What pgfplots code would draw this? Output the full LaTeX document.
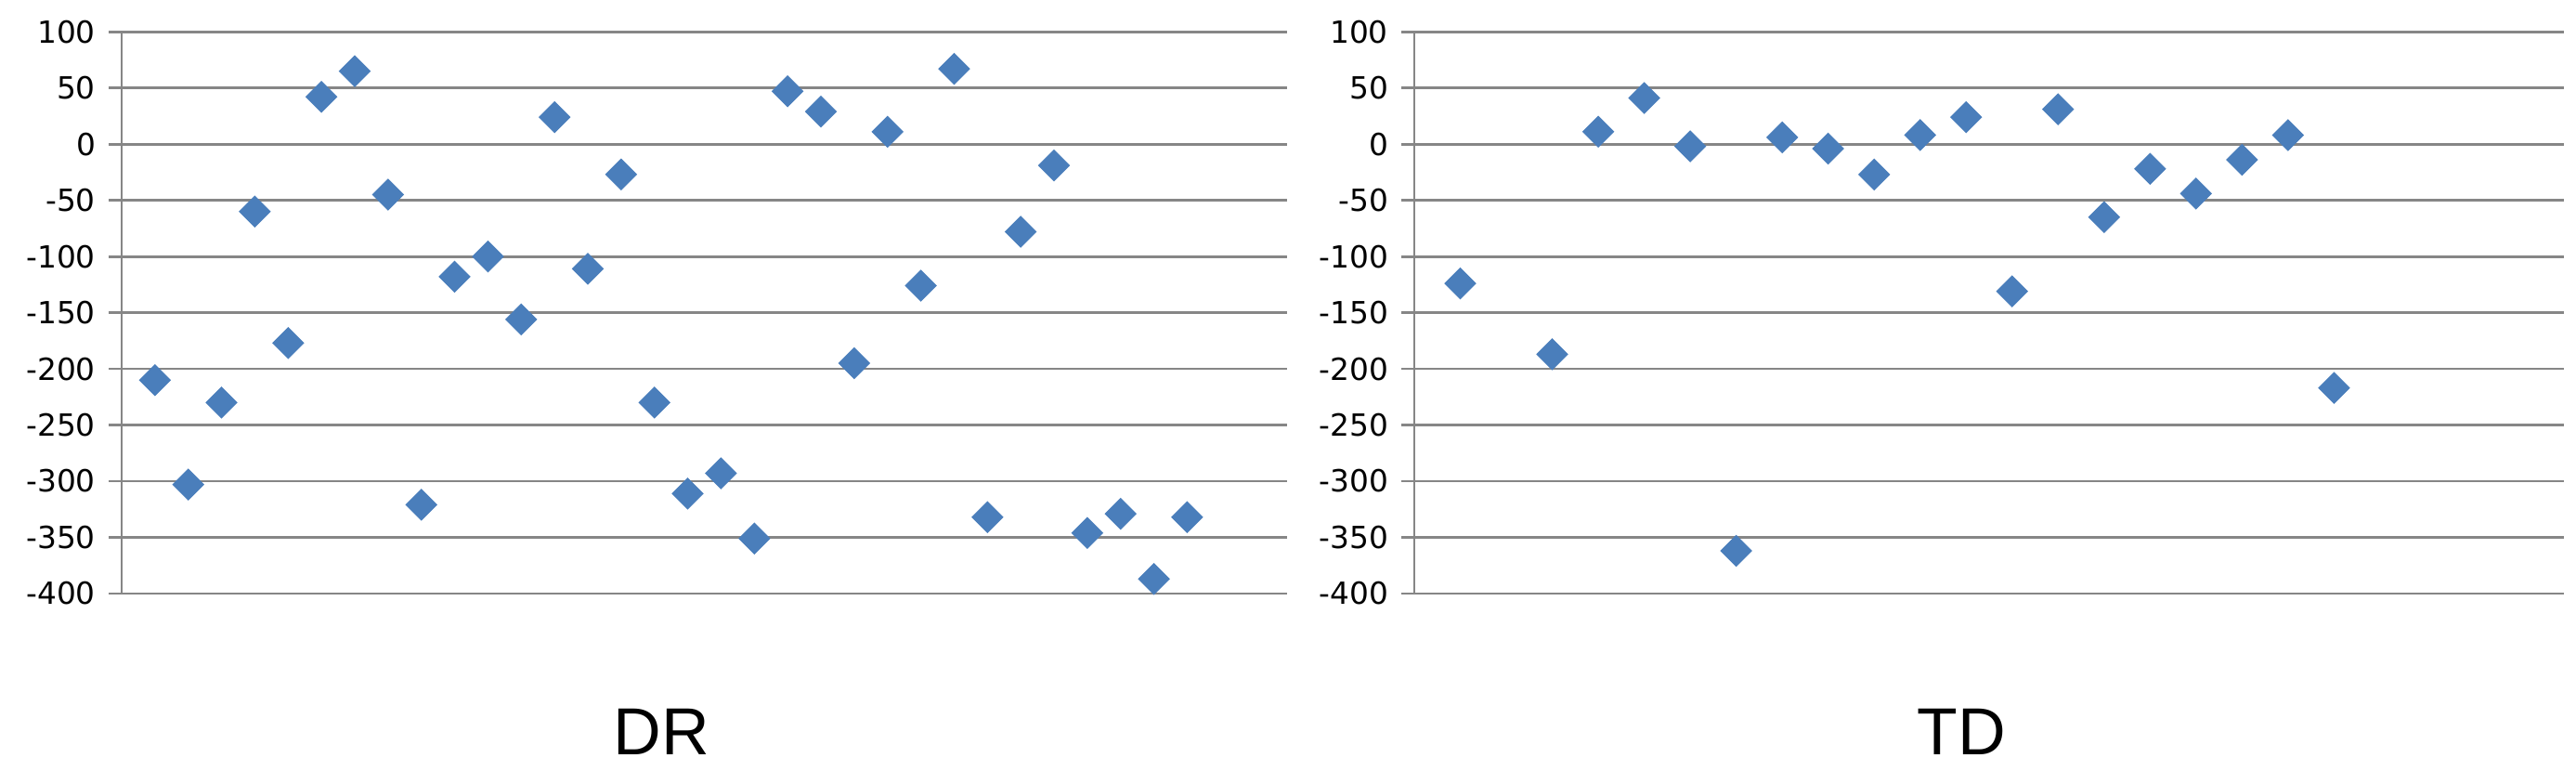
\documentclass[border=0pt]{standalone}
\usepackage{fontspec}
\setmainfont{DejaVu Sans}
\newfontfamily\titlefont{Liberation Sans}
\usepackage{pgfplots}
\pgfplotsset{compat=1.18}
\definecolor{MarkBlue}{RGB}{74,126,187}
\definecolor{GridGray}{RGB}{134,134,134}

\pgfplotsset{
  panel/.style={
    scale only axis,
    height=151.2pt,
    anchor=south west,
    ymin=-400, ymax=100,
    ytick={-400,-350,...,100},
    xtick=\empty,
    xmin=0,
    axis x line=none,
    axis y line*=left,
    ymajorgrids,
    grid style={draw=GridGray, line width=0.7pt},
    axis line style={draw=GridGray, line width=0.7pt},
    tick align=outside,
    major tick length=3.5pt,
    tick style={draw=GridGray, line width=0.7pt},
    /pgf/number format/assume math mode=true,
    yticklabel style={font=\fontsize{8.2}{9}\selectfont, anchor=east},
    clip=false,
  },
  dots/.style={only marks, mark=square*, mark size=2.85pt,
    mark options={rotate=45, fill=MarkBlue, draw=MarkBlue}},
}

\begin{document}
\begin{tikzpicture}
\path[use as bounding box] (0,0) rectangle (693.5pt,211pt);

\begin{axis}[panel, at={(32.75pt,51.25pt)}, width=313.75pt, xmax=35]
\addplot[dots] coordinates {
  (1,-210) (2,-303) (3,-230) (4,-60) (5,-177) (6,42) (7,65) (8,-45)
  (9,-321) (10,-118) (11,-100) (12,-156) (13,24) (14,-111) (15,-27) (16,-230)
  (17,-311) (18,-293) (19,-351) (20,47) (21,29) (22,-195) (23,11) (24,-126)
  (25,67) (26,-332) (27,-78) (28,-19) (29,-346) (30,-329) (31,-387) (32,-332)
};
\end{axis}

\begin{axis}[panel, at={(380.75pt,51.25pt)}, width=309.5pt, xmax=25]
\addplot[dots] coordinates {
  (1,-124) (3,-187) (4,11) (5,41) (6,-2) (7,-362) (8,6) (9,-4) (10,-27)
  (11,8) (12,24) (13,-131) (14,31) (15,-65) (16,-22) (17,-44) (18,-14)
  (19,8) (20,-217)
};
\end{axis}

\node[font=\titlefont\fontsize{17.9}{20}\selectfont, inner sep=0pt] at (178.1pt,14pt) {DR};
\node[font=\titlefont\fontsize{17.9}{20}\selectfont, inner sep=0pt] at (528pt,14pt) {TD};
\end{tikzpicture}
\end{document}
